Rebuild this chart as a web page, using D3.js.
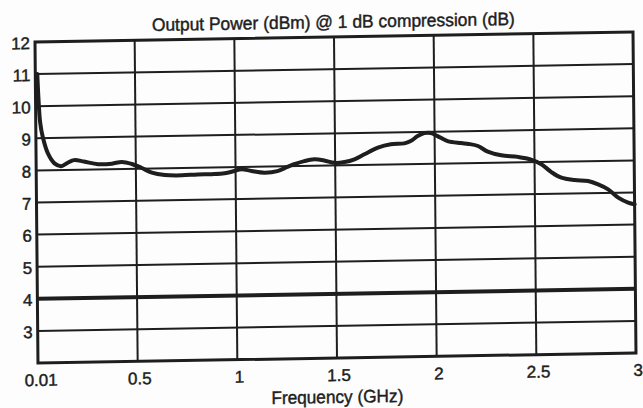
<!DOCTYPE html>
<html>
<head>
<meta charset="utf-8">
<script src="https://cdn.jsdelivr.net/npm/d3@7"></script>
<style>
  html, body { margin: 0; padding: 0; background: #fdfdfd; }
  svg { display: block; }
  text { font-family: "Liberation Sans", Arial, Helvetica, sans-serif; fill: #1e1e1e; stroke: #1e1e1e; stroke-width: 0.45px; }
</style>
</head>
<body>
<svg id="chart" width="643" height="408"></svg>
<script>
// ---- data ----
const title = "Output Power (dBm) @ 1 dB compression (dB)";
const xTitle = "Frequency (GHz)";
const xTickValues = [0.01, 0.5, 1, 1.5, 2, 2.5, 3];
const xTickLabels = ["0.01", "0.5", "1", "1.5", "2", "2.5", "3"];
const yTickValues = [3, 4, 5, 6, 7, 8, 9, 10, 11, 12];
const specLevel = 4; // thick horizontal reference line

const freq = [0.01, 0.015, 0.022, 0.034, 0.059, 0.092, 0.125, 0.159, 0.19, 0.24,
  0.31, 0.38, 0.43, 0.48, 0.53, 0.58, 0.645, 0.73, 0.81, 0.88,
  0.945, 0.995, 1.03, 1.08, 1.145, 1.21, 1.26, 1.29, 1.345, 1.395,
  1.445, 1.497, 1.547, 1.597, 1.647, 1.715, 1.78, 1.848, 1.88, 1.915,
  1.948, 1.982, 2.015, 2.065, 2.133, 2.17, 2.217, 2.266, 2.333, 2.417,
  2.483, 2.534, 2.584, 2.634, 2.70, 2.768, 2.818, 2.868, 2.918, 2.968, 3.0];
const power = [11.0, 10.2, 9.5, 9.05, 8.53, 8.21, 8.12, 8.22, 8.3, 8.25,
  8.16, 8.17, 8.22, 8.15, 8.02, 7.87, 7.79, 7.77, 7.79, 7.79,
  7.81, 7.88, 7.93, 7.87, 7.81, 7.85, 7.98, 8.05, 8.15, 8.2,
  8.16, 8.08, 8.1, 8.18, 8.33, 8.53, 8.63, 8.65, 8.72, 8.87,
  8.96, 8.96, 8.86, 8.7, 8.63, 8.6, 8.53, 8.35, 8.23, 8.17,
  8.08, 7.93, 7.68, 7.5, 7.42, 7.38, 7.27, 7.11, 6.85, 6.69, 6.63];

// ---- layout ----
const L = 35, T = 42, W = 598, H = 321;
const ink = "#1e1e1e";

const svg = d3.select("#chart");
svg.append("rect").attr("width", 643).attr("height", 408).attr("fill", "#fdfdfd");

// slight scan skew of the original page
const root = svg.append("g")
  .attr("transform", "matrix(1,-0.0167,0.0093,1,-0.39,0.58)");

const x = d3.scaleLinear().domain([0, 3]).range([L, L + W]);
const y = d3.scaleLinear().domain([2, 12]).range([T + H, T]);

// horizontal grid
root.append("g").selectAll("line")
  .data(yTickValues.filter(v => v < 12))
  .join("line")
  .attr("x1", L).attr("x2", L + W)
  .attr("y1", d => y(d)).attr("y2", d => y(d))
  .attr("stroke", ink)
  .attr("stroke-width", d => d === specLevel ? 4 : 2);

// vertical grid
root.append("g").selectAll("line")
  .data(xTickValues.filter(v => v > 0.01 && v < 3))
  .join("line")
  .attr("x1", d => x(d)).attr("x2", d => x(d))
  .attr("y1", T).attr("y2", T + H)
  .attr("stroke", ink).attr("stroke-width", 2);

// frame
root.append("rect")
  .attr("x", L).attr("y", T).attr("width", W).attr("height", H)
  .attr("fill", "none").attr("stroke", ink).attr("stroke-width", 3);

// curve
const pts = freq.map((f, i) => [f, power[i]]);
root.append("path")
  .datum(pts)
  .attr("fill", "none")
  .attr("stroke", ink)
  .attr("stroke-width", 4)
  .attr("stroke-linejoin", "round")
  .attr("stroke-linecap", "round")
  .attr("d", d3.line().x(d => x(d[0])).y(d => y(d[1])).curve(d3.curveCatmullRom.alpha(0.5)));

// y tick labels
root.append("g").selectAll("text")
  .data(yTickValues)
  .join("text")
  .attr("x", 30).attr("y", d => y(d) + 7)
  .attr("text-anchor", "end")
  .attr("font-size", 17)
  .text(d => d);

// x tick labels
root.append("g").selectAll("text")
  .data(xTickValues)
  .join("text")
  .attr("x", (d, i) => x(d) + (i === 0 ? 1 : 2))
  .attr("y", T + H + 23)
  .attr("text-anchor", "middle")
  .attr("font-size", 17)
  .text((d, i) => xTickLabels[i]);

// titles
root.append("text")
  .attr("x", 152).attr("y", 33)
  .attr("font-size", 18)
  .attr("textLength", 363).attr("lengthAdjust", "spacingAndGlyphs")
  .text(title);

root.append("text")
  .attr("x", 268).attr("y", 408)
  .attr("font-size", 18)
  .attr("textLength", 132).attr("lengthAdjust", "spacingAndGlyphs")
  .text(xTitle);
</script>
</body>
</html>
